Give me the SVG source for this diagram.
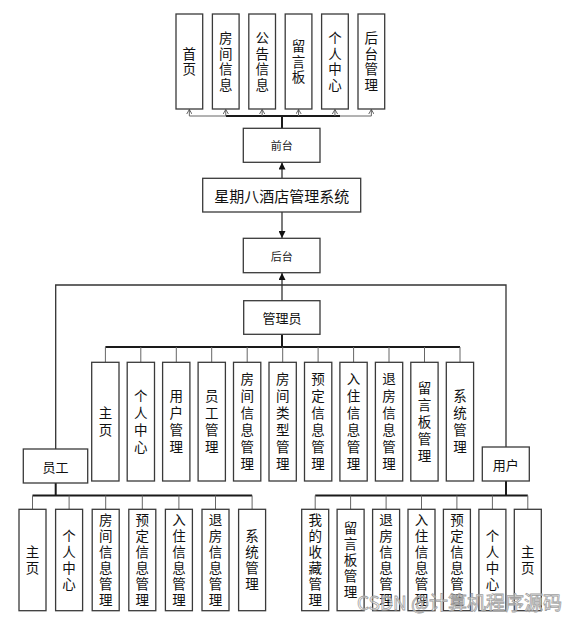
<svg xmlns="http://www.w3.org/2000/svg" width="577" height="624" viewBox="0 0 577 624">
<defs>
<marker id="arrF" viewBox="0 0 10 10" refX="10" refY="5" markerWidth="7" markerHeight="7" markerUnits="userSpaceOnUse" orient="auto">
<path d="M0,0 L10,5 L0,10 z" fill="#111"/>
</marker>
<marker id="arrO" viewBox="0 0 8 8" refX="7" refY="4" markerWidth="6" markerHeight="6" markerUnits="userSpaceOnUse" orient="auto">
<path d="M1,0.5 L7,4 L1,7.5" fill="none" stroke="#555" stroke-width="1.2"/>
</marker>
</defs>
<style>
.b{fill:#fff;stroke:#3a3a3a;stroke-width:1.3}
.t{font-family:"Noto Sans CJK SC","Microsoft YaHei",sans-serif;fill:#111;text-anchor:middle;dominant-baseline:central}
.vt{font-family:"Noto Sans CJK SC","Microsoft YaHei",sans-serif;fill:#111;text-anchor:middle;writing-mode:vertical-rl;text-orientation:upright;font-size:13.5px}
.p1{letter-spacing:2.2px}
.p2{letter-spacing:3.5px}
.p3{letter-spacing:2.5px}
.s{font-size:11px;fill:#222}
.m{font-size:13px}
.bus{stroke:#1a1a1a;stroke-width:2;fill:none}
.ln{stroke:#333;stroke-width:1.3;fill:none}
.dr{stroke:#666;stroke-width:1;fill:none}
</style>
<rect width="577" height="624" fill="#fff"/>

<g id="connectors">
<line class="dr" x1="189.35" y1="116" x2="371.35" y2="116"/>
<line class="bus" x1="226" y1="116" x2="340" y2="116"/>
<line class="bus" x1="282" y1="128" x2="282" y2="116"/>
<line class="dr" x1="189.35" y1="116" x2="189.35" y2="109.5" marker-end="url(#arrO)"/>
<line class="dr" x1="225.75" y1="116" x2="225.75" y2="109.5" marker-end="url(#arrO)"/>
<line class="dr" x1="262.15" y1="116" x2="262.15" y2="109.5" marker-end="url(#arrO)"/>
<line class="dr" x1="298.55" y1="116" x2="298.55" y2="109.5" marker-end="url(#arrO)"/>
<line class="dr" x1="334.95" y1="116" x2="334.95" y2="109.5" marker-end="url(#arrO)"/>
<line class="dr" x1="371.35" y1="116" x2="371.35" y2="109.5" marker-end="url(#arrO)"/>
<line class="ln" x1="282" y1="178" x2="282" y2="162.5" marker-end="url(#arrF)"/>
<line class="ln" x1="282" y1="212" x2="282" y2="238" marker-end="url(#arrF)"/>
<line class="ln" x1="282" y1="300.7" x2="282" y2="273" marker-end="url(#arrF)"/>
<polyline class="ln" points="55.7,449 55.7,285 506,285 506,447"/>
<line class="bus" x1="282" y1="334.3" x2="282" y2="347"/>
<line class="bus" x1="105.4" y1="347" x2="460" y2="347"/>
<g class="dr">
<line x1="105.4" y1="347" x2="105.4" y2="362.3"/>
<line x1="140.8" y1="347" x2="140.8" y2="362.3"/>
<line x1="176.3" y1="347" x2="176.3" y2="362.3"/>
<line x1="211.7" y1="347" x2="211.7" y2="362.3"/>
<line x1="247.2" y1="347" x2="247.2" y2="362.3"/>
<line x1="282.7" y1="347" x2="282.7" y2="362.3"/>
<line x1="318.1" y1="347" x2="318.1" y2="362.3"/>
<line x1="353.6" y1="347" x2="353.6" y2="362.3"/>
<line x1="389" y1="347" x2="389" y2="362.3"/>
<line x1="424.5" y1="347" x2="424.5" y2="362.3"/>
<line x1="460" y1="347" x2="460" y2="362.3"/>
</g>
<line class="bus" x1="55.7" y1="483" x2="55.7" y2="495.5"/>
<line class="bus" x1="32.5" y1="495.5" x2="252.1" y2="495.5"/>
<g class="dr">
<line x1="32.5" y1="495.5" x2="32.5" y2="509.3"/>
<line x1="69.1" y1="495.5" x2="69.1" y2="509.3"/>
<line x1="105.7" y1="495.5" x2="105.7" y2="509.3"/>
<line x1="142.3" y1="495.5" x2="142.3" y2="509.3"/>
<line x1="178.9" y1="495.5" x2="178.9" y2="509.3"/>
<line x1="215.5" y1="495.5" x2="215.5" y2="509.3"/>
<line x1="252.1" y1="495.5" x2="252.1" y2="509.3"/>
</g>
<line class="bus" x1="506" y1="481" x2="506" y2="495.5"/>
<line class="bus" x1="315.2" y1="495.5" x2="527.8" y2="495.5"/>
<g class="dr">
<line x1="315.2" y1="495.5" x2="315.2" y2="509.3"/>
<line x1="350.6" y1="495.5" x2="350.6" y2="509.3"/>
<line x1="386.1" y1="495.5" x2="386.1" y2="509.3"/>
<line x1="421.5" y1="495.5" x2="421.5" y2="509.3"/>
<line x1="456.9" y1="495.5" x2="456.9" y2="509.3"/>
<line x1="492.4" y1="495.5" x2="492.4" y2="509.3"/>
<line x1="527.8" y1="495.5" x2="527.8" y2="509.3"/>
</g>
</g>

<g id="f-home"><rect class="b" x="176" y="14" width="26.7" height="95"/><text class="vt p1" x="189.35" y="62.6">首页</text></g>
<g id="f-room"><rect class="b" x="212.4" y="14" width="26.7" height="95"/><text class="vt p1" x="225.75" y="62.6">房间信息</text></g>
<g id="f-notice"><rect class="b" x="248.8" y="14" width="26.7" height="95"/><text class="vt p1" x="262.15" y="62.6">公告信息</text></g>
<g id="f-msg"><rect class="b" x="285.2" y="14" width="26.7" height="95"/><text class="vt p1" x="298.55" y="62.6">留言板</text></g>
<g id="f-center"><rect class="b" x="321.6" y="14" width="26.7" height="95"/><text class="vt p1" x="334.95" y="62.6">个人中心</text></g>
<g id="f-admin"><rect class="b" x="358" y="14" width="26.7" height="95"/><text class="vt p1" x="371.35" y="62.6">后台管理</text></g>

<g id="frontend"><rect class="b" x="243.3" y="128.3" width="76.7" height="34"/><text class="t s" x="281.7" y="145.3">前台</text></g>
<g id="system"><rect class="b" x="202.7" y="178.3" width="158" height="33.7"/><text class="t" style="font-size:15px" x="281.7" y="195.2">星期八酒店管理系统</text></g>
<g id="backend"><rect class="b" x="243.3" y="238.3" width="76.7" height="34.4"/><text class="t s" x="281.7" y="255.5">后台</text></g>
<g id="manager"><rect class="b" x="243.7" y="300.7" width="76.3" height="33.6"/><text class="t m" x="281.9" y="317.5">管理员</text></g>
<g id="employee"><rect class="b" x="23.3" y="449" width="64.4" height="34"/><text class="t m" x="55.5" y="466">员工</text></g>
<g id="user"><rect class="b" x="482.3" y="447" width="47" height="34"/><text class="t m" x="505.8" y="464">用户</text></g>

<g id="a1"><rect class="b" x="91.7" y="362.3" width="27.3" height="118.7"/><text class="vt p2" x="105.4" y="423.2">主页</text></g>
<g id="a2"><rect class="b" x="127.2" y="362.3" width="27.3" height="118.7"/><text class="vt p2" x="140.8" y="423.2">个人中心</text></g>
<g id="a3"><rect class="b" x="162.6" y="362.3" width="27.3" height="118.7"/><text class="vt p2" x="176.3" y="423.2">用户管理</text></g>
<g id="a4"><rect class="b" x="198.1" y="362.3" width="27.3" height="118.7"/><text class="vt p2" x="211.7" y="423.2">员工管理</text></g>
<g id="a5"><rect class="b" x="233.5" y="362.3" width="27.3" height="118.7"/><text class="vt p2" x="247.2" y="423.2">房间信息管理</text></g>
<g id="a6"><rect class="b" x="269" y="362.3" width="27.3" height="118.7"/><text class="vt p2" x="282.7" y="423.2">房间类型管理</text></g>
<g id="a7"><rect class="b" x="304.5" y="362.3" width="27.3" height="118.7"/><text class="vt p2" x="318.1" y="423.2">预定信息管理</text></g>
<g id="a8"><rect class="b" x="339.9" y="362.3" width="27.3" height="118.7"/><text class="vt p2" x="353.6" y="423.2">入住信息管理</text></g>
<g id="a9"><rect class="b" x="375.4" y="362.3" width="27.3" height="118.7"/><text class="vt p2" x="389" y="423.2">退房信息管理</text></g>
<g id="a10"><rect class="b" x="410.8" y="362.3" width="27.3" height="118.7"/><text class="vt p2" x="424.5" y="423.2">留言板管理</text></g>
<g id="a11"><rect class="b" x="446.3" y="362.3" width="27.3" height="118.7"/><text class="vt p2" x="460" y="423.2">系统管理</text></g>

<g id="e1"><rect class="b" x="19" y="509.3" width="27" height="101.4"/><text class="vt p3" x="32.5" y="561.2">主页</text></g>
<g id="e2"><rect class="b" x="55.6" y="509.3" width="27" height="101.4"/><text class="vt p3" x="69.1" y="561.2">个人中心</text></g>
<g id="e3"><rect class="b" x="92.2" y="509.3" width="27" height="101.4"/><text class="vt p3" x="105.7" y="561.2">房间信息管理</text></g>
<g id="e4"><rect class="b" x="128.8" y="509.3" width="27" height="101.4"/><text class="vt p3" x="142.3" y="561.2">预定信息管理</text></g>
<g id="e5"><rect class="b" x="165.4" y="509.3" width="27" height="101.4"/><text class="vt p3" x="178.9" y="561.2">入住信息管理</text></g>
<g id="e6"><rect class="b" x="202" y="509.3" width="27" height="101.4"/><text class="vt p3" x="215.5" y="561.2">退房信息管理</text></g>
<g id="e7"><rect class="b" x="238.6" y="509.3" width="27" height="101.4"/><text class="vt p3" x="252.1" y="561.2">系统管理</text></g>

<g id="u1"><rect class="b" x="301.7" y="509.3" width="27" height="101.4"/><text class="vt p3" x="315.2" y="561.2">我的收藏管理</text></g>
<g id="u2"><rect class="b" x="337.1" y="509.3" width="27" height="101.4"/><text class="vt p3" x="350.6" y="561.2">留言板管理</text></g>
<g id="u3"><rect class="b" x="372.6" y="509.3" width="27" height="101.4"/><text class="vt p3" x="386.1" y="561.2">退房信息管理</text></g>
<g id="u4"><rect class="b" x="408" y="509.3" width="27" height="101.4"/><text class="vt p3" x="421.5" y="561.2">入住信息管理</text></g>
<g id="u5"><rect class="b" x="443.4" y="509.3" width="27" height="101.4"/><text class="vt p3" x="456.9" y="561.2">预定信息管理</text></g>
<g id="u6"><rect class="b" x="478.9" y="509.3" width="27" height="101.4"/><text class="vt p3" x="492.4" y="561.2">个人中心</text></g>
<g id="u7"><rect class="b" x="514.3" y="509.3" width="27" height="101.4"/><text class="vt p3" x="527.8" y="561.2">主页</text></g>

<text x="562" y="610" text-anchor="end" style="font-family:'Noto Sans CJK SC',sans-serif;font-size:19px" fill="#ffffff" fill-opacity="0.55" stroke="#a0a0a0" stroke-width="0.8">CSDN @计算机程序源码</text>
</svg>
